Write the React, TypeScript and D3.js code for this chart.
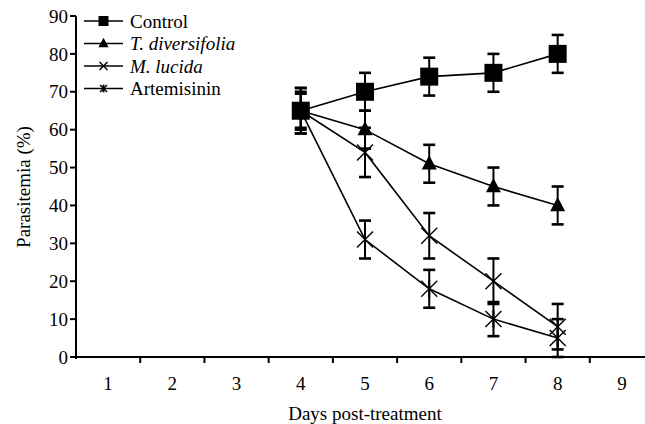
import React from "react";
import { scaleBand, scaleLinear, line, range } from "d3";

// days on the x axis (band categories)
const days = [1, 2, 3, 4, 5, 6, 7, 8, 9];
const yTicks = [0, 10, 20, 30, 40, 50, 60, 70, 80, 90];

// measured days
const obsDays = [4, 5, 6, 7, 8];

const control = [65, 70, 74, 75, 80];
const controlErr = [6, 5, 5, 5, 5];
const tDiversifolia = [65, 60, 51, 45, 40];
const tDiversifoliaErr = [5, 5, 5, 5, 5];
const mLucida = [65, 54, 32, 20, 8];
const mLucidaErr = [4.5, 6.5, 6, 6, 6];
const artemisinin = [65, 31, 18, 10, 5];
const artemisininErr = [6, 5, 5, 4.5, 5];

const seriesNames = ["Control", "T. diversifolia", "M. lucida", "Artemisinin"];

const FONT = "Liberation Serif";

const Marker = ({ kind, x, y, s }: { kind: string; x: number; y: number; s: number }) => {
	if (kind === "square") {
		return <rect x={x - s / 2} y={y - s / 2} width={s} height={s} fill="#000" />;
	}
	if (kind === "triangle") {
		const h = s * 0.95;
		return (
			<path
				d={`M${x},${y - h * 0.6} L${x + s / 2},${y + h * 0.4} L${x - s / 2},${y + h * 0.4} Z`}
				fill="#000"
			/>
		);
	}
	const r = s / 2;
	return (
		<g stroke="#000" strokeWidth={1.4}>
			<line x1={x - r} y1={y - r} x2={x + r} y2={y + r} />
			<line x1={x - r} y1={y + r} x2={x + r} y2={y - r} />
			{kind === "star" && <line x1={x} y1={y - r * 1.1} x2={x} y2={y + r * 1.1} strokeWidth={2} />}
		</g>
	);
};

const App = () => {
	const width = 645;
	const height = 424;

	const xScale = scaleBand<number>().domain(days).range([76, 654]).padding(0);
	const yScale = scaleLinear().domain([0, 90]).range([357, 16]);
	const cx = (d: number) => (xScale(d) as number) + xScale.bandwidth() / 2;

	const series = [
		{ name: seriesNames[0], values: control, err: controlErr, kind: "square", size: 18, lsize: 10 },
		{ name: seriesNames[1], values: tDiversifolia, err: tDiversifoliaErr, kind: "triangle", size: 15, lsize: 10 },
		{ name: seriesNames[2], values: mLucida, err: mLucidaErr, kind: "cross", size: 16, lsize: 8 },
		{ name: seriesNames[3], values: artemisinin, err: artemisininErr, kind: "star", size: 16, lsize: 7 },
	];

	const lineGen = line<number>()
		.x((_, i) => cx(obsDays[i]))
		.y((v) => yScale(v));

	const xTickPos = range(1, days.length + 1).map((i) => 76 + i * xScale.bandwidth());
	const txt = { fontFamily: FONT, fontSize: "19px" };

	return (
		<svg width={width} height={height} style={{ position: "absolute", left: 0, top: 0 }}>
			<rect width={width} height={height} fill="#fff" />
			{/* axes */}
			<g stroke="#000" strokeWidth={2}>
				<line x1={76} y1={yScale(90)} x2={76} y2={359} />
				<line x1={75} y1={yScale(0)} x2={654} y2={yScale(0)} />
				{yTicks.map((t) => (
					<line key={t} x1={70} y1={yScale(t)} x2={76} y2={yScale(t)} />
				))}
				{xTickPos.map((p, i) => (
					<line key={i} x1={p} y1={yScale(0)} x2={p} y2={yScale(0) + 6} />
				))}
			</g>
			<g style={txt} fill="#000">
				{yTicks.map((t) => (
					<text key={t} x={68} y={yScale(t)} dy="0.35em" textAnchor="end">
						{t}
					</text>
				))}
				{days.map((d) => (
					<text key={d} x={cx(d)} y={390} textAnchor="middle">
						{d}
					</text>
				))}
				<text x={365} y={420} textAnchor="middle">
					Days post-treatment
				</text>
				<text transform={`translate(30,187) rotate(-90)`} textAnchor="middle">
					Parasitemia (%)
				</text>
			</g>
			{/* lines */}
			{series.map((s) => (
				<path key={s.name} d={lineGen(s.values) || ""} fill="none" stroke="#000" strokeWidth={1.6} />
			))}
			{/* error bars */}
			{series.map((s) =>
				s.values.map((v, i) => {
					const x = cx(obsDays[i]);
					const y1 = yScale(v + s.err[i]);
					const y2 = yScale(Math.max(0, v - s.err[i]));
					return (
						<g key={s.name + i} stroke="#000">
							<line x1={x} y1={y1} x2={x} y2={y2} strokeWidth={2} />
							<line x1={x - 6} y1={y1} x2={x + 6} y2={y1} strokeWidth={2.6} />
							<line x1={x - 6} y1={y2} x2={x + 6} y2={y2} strokeWidth={2.6} />
						</g>
					);
				})
			)}
			{/* markers */}
			{series.map((s) =>
				s.values.map((v, i) => (
					<Marker key={s.name + "m" + i} kind={s.kind} x={cx(obsDays[i])} y={yScale(v)} s={s.size} />
				))
			)}
			{/* legend */}
			{series.map((s, i) => {
				const y = 21 + i * 22.5;
				return (
					<g key={s.name + "leg"}>
						<line x1={84} y1={y} x2={123} y2={y} stroke="#000" strokeWidth={1.6} />
						<Marker kind={s.kind} x={103.5} y={y} s={s.lsize} />
						<text
							x={130}
							y={y}
							dy="0.35em"
							style={{ ...txt, fontStyle: i === 1 || i === 2 ? "italic" : "normal" }}
						>
							{s.name}
						</text>
					</g>
				);
			})}
		</svg>
	);
};

export default App;
